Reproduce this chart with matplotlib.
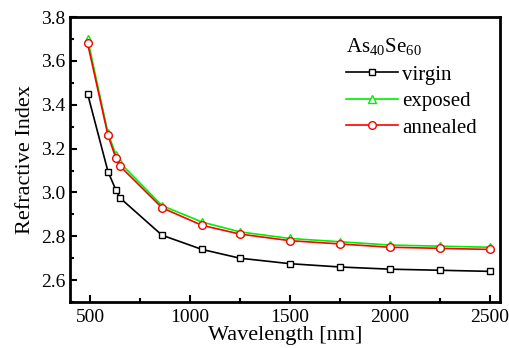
import matplotlib
matplotlib.use('Agg')
import matplotlib.pyplot as plt
from matplotlib.ticker import MultipleLocator

plt.rcParams['font.family'] = 'Liberation Serif'
plt.rcParams['mathtext.fontset'] = 'custom'
plt.rcParams['mathtext.rm'] = 'Liberation Serif'

wavelength = [488, 590, 630, 650, 860, 1060, 1250, 1500, 1750, 2000, 2250, 2500]
virgin = [3.45, 3.095, 3.01, 2.975, 2.805, 2.74, 2.70, 2.675, 2.66, 2.65, 2.645, 2.64]
exposed = [3.70, 3.27, 3.17, 3.135, 2.94, 2.865, 2.82, 2.79, 2.775, 2.76, 2.755, 2.75]
annealed = [3.68, 3.26, 3.155, 3.12, 2.93, 2.85, 2.81, 2.78, 2.765, 2.75, 2.745, 2.74]

fig = plt.figure(figsize=(5.09, 3.48), dpi=100)
ax = fig.add_axes([0.1375, 0.132, 0.845, 0.819])

ax.plot(wavelength, virgin, color='black', marker='s', mfc='white', ms=5, mew=1, lw=1.2, label='virgin')
ax.plot(wavelength, exposed, color='#00ee00', marker='^', mfc='white', ms=6, mew=1, lw=1.2, label='exposed')
ax.plot(wavelength, annealed, color='red', marker='o', mfc='white', ms=5.5, mew=1, lw=1.2, label='annealed')

ax.set_xlim(400, 2550)
ax.set_ylim(2.5, 3.8)
ax.xaxis.set_major_locator(MultipleLocator(500))
ax.xaxis.set_minor_locator(MultipleLocator(250))
ax.yaxis.set_major_locator(MultipleLocator(0.2))
ax.yaxis.set_minor_locator(MultipleLocator(0.1))
ax.yaxis.set_major_formatter(matplotlib.ticker.FormatStrFormatter('%.1f'))
ax.tick_params(which='both', direction='in', top=False, right=False, labelsize=14)
ax.tick_params(axis='x', pad=5)
ax.tick_params(which='major', length=5, width=1.5)
ax.tick_params(which='minor', length=3, width=1.5)
for s in ax.spines.values():
    s.set_linewidth(2)

ax.set_xlabel('Wavelength [nm]', fontsize=16, labelpad=0)
ax.set_ylabel('Refractive Index', fontsize=16)

leg = ax.legend(title='As$_{40}$Se$_{60}$', frameon=False, fontsize=15, loc='upper right',
                bbox_to_anchor=(0.975, 0.975), handlelength=2.5, handletextpad=0.2,
                labelspacing=0.33, borderaxespad=0.2)
leg.get_title().set_fontsize(15)
leg._legend_box.align = 'left'

fig.savefig('out.png', dpi=100)
